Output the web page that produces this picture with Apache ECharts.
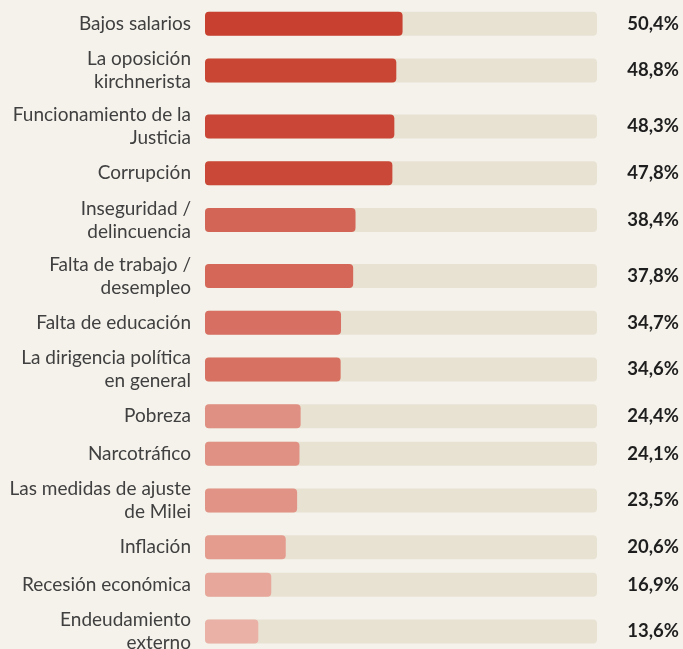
<!DOCTYPE html>
<html>
<head>
<meta charset="utf-8">
<script src="https://cdn.jsdelivr.net/npm/echarts@6/dist/echarts.min.js"></script>
<style>
  html, body { margin: 0; padding: 0; background: #f5f2eb; }
  #chart { width: 683px; height: 649px; }
</style>
</head>
<body>
<div id="chart"></div>
<script>
// problems named in the survey (two-line labels keep their break)
const categories = [
  'Bajos salarios',
  'La oposición\nkirchnerista',
  'Funcionamiento de la\nJusticia',
  'Corrupción',
  'Inseguridad /\ndelincuencia',
  'Falta de trabajo /\ndesempleo',
  'Falta de educación',
  'La dirigencia política\nen general',
  'Pobreza',
  'Narcotráfico',
  'Las medidas de ajuste\nde Milei',
  'Inflación',
  'Recesión económica',
  'Endeudamiento\nexterno'
]
const values = [50.4, 48.8, 48.3, 47.8, 38.4, 37.8, 34.7, 34.6, 24.4, 24.1, 23.5, 20.6, 16.9, 13.6]

// row height grows with the number of label lines
const rowHeight = label => 19 + 18.5 * label.split('\n').length
let acc = 0
const rowCenters = categories.map(label => {
  const h = rowHeight(label)
  const c = acc + h / 2
  acc += h
  return c
})

const seriesData = values.map((v, i) => [v, rowCenters[i], i])

const fmt = v => v.toFixed(1).replace('.', ',') + '%'

const topPad = 5
const chartH = 649

const myChart = echarts.init(document.getElementById('chart'))
const option = {
  backgroundColor: '#f5f2eb',
  grid: { left: 205, right: 86, top: 0, bottom: 0 },
  xAxis: { type: 'value', min: 0, max: 100, show: false },
  yAxis: { type: 'value', min: -topPad, max: chartH - topPad, inverse: true, show: false },
  visualMap: {
    show: false,
    type: 'continuous',
    dimension: 0,
    min: 13.6,
    max: 50.4,
    inRange: { color: ['#eab1a6', '#c8402f'] }
  },
  series: [{
    type: 'custom',
    data: seriesData,
    encode: { x: 0, y: 1 },
    renderItem: function (params, api) {
      const v = api.value(0)
      const y = api.value(1)
      const idx = api.value(2)
      const start = api.coord([0, y])
      const end = api.coord([v, y])
      const full = api.coord([100, y])
      const barH = 24
      return {
        type: 'group',
        children: [
          {
            type: 'rect',
            shape: { x: start[0], y: start[1] - barH / 2, width: full[0] - start[0], height: barH, r: 4 },
            style: { fill: '#e8e2d3' }
          },
          {
            type: 'rect',
            shape: { x: start[0], y: start[1] - barH / 2, width: end[0] - start[0], height: barH, r: 4 },
            style: { fill: api.visual('color') }
          },
          {
            type: 'text',
            x: start[0] - 14,
            y: start[1],
            style: {
              text: categories[idx],
              align: 'right',
              verticalAlign: 'middle',
              fontFamily: 'Lato',
              fontSize: 19,
              lineHeight: 23,
              fill: '#404040'
            }
          },
          {
            type: 'text',
            x: 679,
            y: start[1],
            style: {
              text: fmt(v),
              align: 'right',
              verticalAlign: 'middle',
              fontFamily: 'Lato',
              fontWeight: 'bold',
              fontSize: 18.5,
              fill: '#1e1e1e'
            }
          }
        ]
      }
    }
  }]
}
myChart.setOption(option)
</script>
</body>
</html>
